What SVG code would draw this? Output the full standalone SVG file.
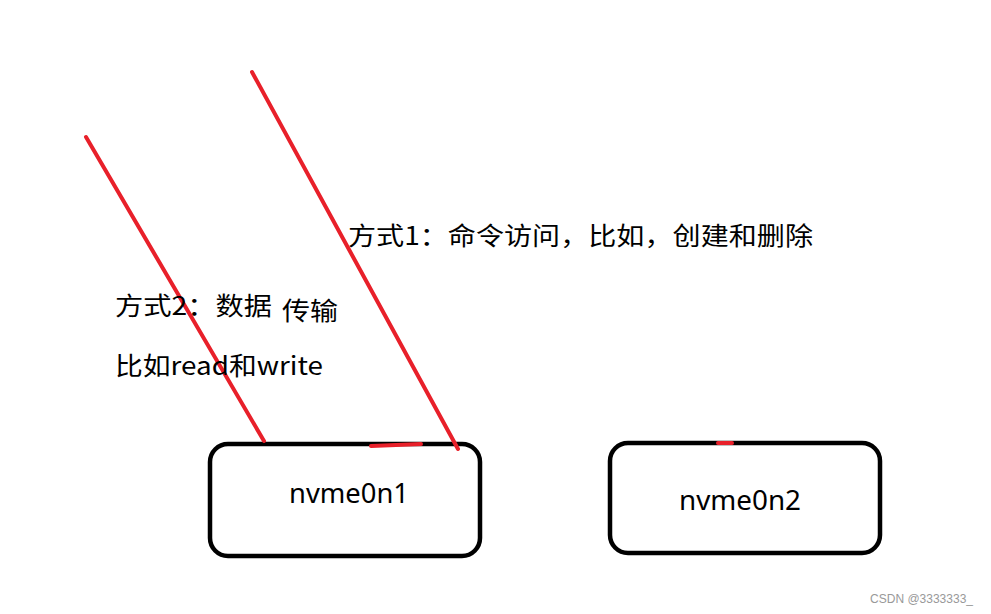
<svg xmlns="http://www.w3.org/2000/svg" width="991" height="614" viewBox="0 0 991 614">
<style>
.box{fill:#fff;stroke:#000;stroke-width:4.5}
.red{stroke:#e8202a;stroke-width:4;stroke-linecap:round;fill:none}
.t{font-family:"Noto Sans CJK SC","Noto Sans",sans-serif;font-size:25px;fill:#000}
.n{font-family:"Noto Sans","Liberation Sans",sans-serif;font-size:27px;fill:#000}
</style>
<rect width="991" height="614" fill="#fff"/>
<g id="node-nvme0n1">
<rect class="box" x="210" y="444" width="270" height="112" rx="18"/>
<text class="n" x="289" y="503" textLength="120" lengthAdjust="spacingAndGlyphs">nvme0n1</text>
</g>
<g id="node-nvme0n2">
<rect class="box" x="610" y="443" width="270" height="110" rx="18"/>
<text class="n" x="679" y="510" textLength="122" lengthAdjust="spacingAndGlyphs">nvme0n2</text>
</g>
<g id="connectors">
<line class="red" x1="86" y1="137" x2="264" y2="441"/>
<line class="red" x1="252" y1="72" x2="458" y2="449"/>
<line class="red" x1="371" y1="446" x2="421" y2="444"/>
<line class="red" x1="718" y1="443" x2="732" y2="443" stroke-width="2"/>
</g>
<g id="labels">
<text class="t" x="348" y="245" textLength="465" lengthAdjust="spacingAndGlyphs">方式1：命令访问，比如，创建和删除</text>
<text class="t" x="115" y="315" textLength="157" lengthAdjust="spacingAndGlyphs">方式2：数据</text>
<text class="t" x="282" y="320" textLength="56" lengthAdjust="spacingAndGlyphs">传输</text>
<text class="t" x="115" y="375" textLength="208" lengthAdjust="spacingAndGlyphs">比如read和write</text>
</g>
<text x="973" y="603" text-anchor="end" font-family="Liberation Sans, sans-serif" font-size="12" fill="#999">CSDN @3333333_</text>
</svg>
